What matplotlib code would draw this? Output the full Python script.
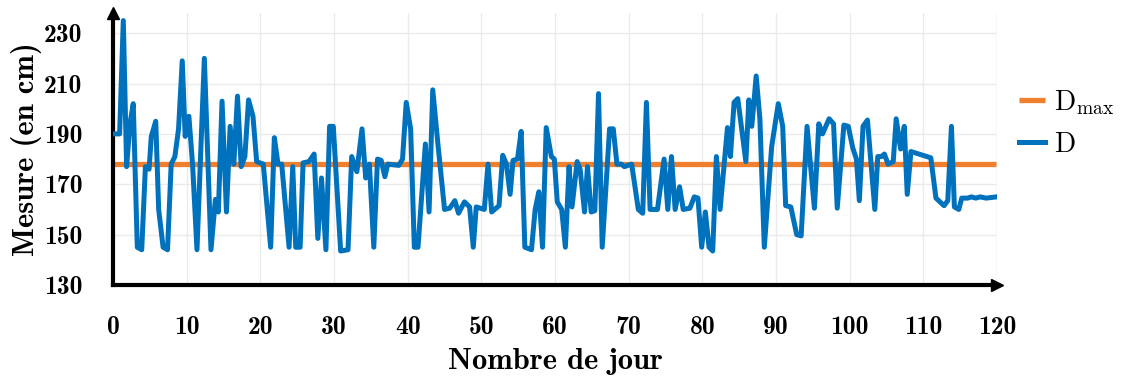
import matplotlib
matplotlib.use("Agg")
import matplotlib.pyplot as plt

# data
days = [0.0, 0.9, 1.4, 1.85, 2.3, 2.75, 3.3, 3.9, 4.4, 4.9, 5.2, 5.8, 6.2, 6.8, 7.4, 7.9,
        8.4, 8.9, 9.4, 9.8, 10.3, 10.8, 11.4, 12.4, 13.3, 13.9, 14.3, 14.8, 15.4, 15.9,
        16.4, 16.9, 17.4, 17.9, 18.4, 19.0, 19.5, 20.4, 21.4, 21.9, 22.4, 22.9, 23.9,
        24.4, 24.8, 25.4, 25.8, 26.6, 27.3, 27.8, 28.3, 28.9, 29.4, 29.9, 30.9, 31.9,
        32.4, 33.1, 33.8, 34.3, 34.8, 35.4, 35.9, 36.4, 36.9, 37.3, 38.8, 39.3, 39.8,
        40.4, 40.9, 41.4, 42.4, 42.9, 43.4, 44.1, 45.0, 45.7, 46.4, 46.9, 47.7, 48.4,
        48.9, 49.3, 50.4, 50.9, 51.4, 52.4, 52.9, 53.4, 53.9, 54.3, 54.9, 55.4, 55.9,
        56.8, 57.3, 57.8, 58.3, 58.8, 59.5, 59.9, 60.3, 60.9, 61.4, 61.9, 62.3, 63.0,
        63.4, 64.0, 64.4, 64.9, 65.4, 65.9, 66.4, 67.4, 67.9, 68.4, 69.0, 69.4, 70.4,
        71.3, 71.9, 72.4, 72.9, 73.9, 74.8, 75.3, 75.8, 76.3, 76.9, 77.4, 78.3, 78.9,
        79.4, 79.9, 80.4, 80.9, 81.4, 81.9, 82.4, 83.4, 83.8, 84.3, 84.8, 85.9, 86.3,
        86.7, 87.3, 87.8, 88.4, 89.4, 90.3, 90.9, 91.3, 92.0, 92.8, 93.4, 94.2, 95.2,
        95.8, 96.3, 97.2, 97.8, 98.3, 99.2, 99.8, 100.4, 100.9, 101.3, 101.8, 102.4,
        103.4, 103.8, 104.3, 104.7, 105.2, 105.9, 106.3, 106.9, 107.4, 107.8, 108.3,
        111.0, 111.7, 112.8, 113.3, 113.8, 114.2, 114.8, 115.2, 116.0, 116.5, 117.1,
        117.7, 118.5, 119.9]
mesure = [190, 190, 235, 177, 194, 202, 145, 144, 177, 176, 189, 195, 160, 145, 144, 178,
          181, 192, 219, 189, 197, 178, 144, 220, 144, 164, 159, 203, 159, 193,
          178, 205, 177, 181, 203.5, 197, 179, 178, 145, 188.5, 178, 178, 145,
          177, 145, 145, 178.5, 179, 182, 148.5, 172.5, 144, 193, 193, 143.5, 144,
          181, 175, 192, 172.5, 178, 145, 180, 179.5, 173, 178, 177.5, 180, 202.5,
          192, 145, 145, 186, 159, 207.5, 186, 160, 160.5, 163.5, 158.5, 163, 161,
          145, 161, 160, 178, 159, 161.5, 181.5, 178, 166, 179.5, 180, 191, 145,
          144, 160, 167, 145, 192.5, 181, 180, 163, 160, 145, 177, 161, 179,
          176, 159, 177, 159, 159.5, 206, 145, 192, 192, 178, 178, 177, 178,
          160, 158.5, 202.5, 160, 160, 180, 160, 181, 160, 169, 160, 160.5, 165,
          164.5, 145, 159, 145, 143.5, 181, 160, 192.5, 181, 202.5, 204, 179, 203.5,
          193, 213, 196, 145, 185, 202, 193, 161.5, 161, 150, 149.5, 193, 160.5,
          194, 190, 196, 194, 160.5, 193.5, 193, 184.5, 180, 163.5, 193, 195.5,
          160, 181, 181, 182, 178, 179, 196, 184, 193, 166, 183,
          180.5, 164.5, 161.5, 163.5, 193, 161, 160, 164.5, 164.5, 165, 164.5,
          165, 164.5, 165]
d_max = 178

x_ticks = [0, 10, 20, 30, 40, 50, 60, 70, 80, 90, 100, 110, 120]
y_ticks = [130, 150, 170, 190, 210, 230]

blue = "#0072BD"
orange = "#F07F2E"

plt.rcParams["font.family"] = "cmb10"
plt.rcParams["mathtext.fontset"] = "cm"
plt.rcParams["axes.unicode_minus"] = False

fig = plt.figure(figsize=(11.22, 3.78), dpi=100)
ax = fig.add_axes([0.1007, 0.246, 0.788, 0.7196])

ax.plot([days[0], days[-1]], [d_max, d_max], color=orange, linewidth=3.8,
        solid_capstyle="butt", label=r"$\mathrm{D}_{\mathrm{max}}$", zorder=2)
ax.plot(days, mesure, color=blue, linewidth=3.6, solid_joinstyle="round",
        label=r"$\mathrm{D}$", zorder=3)

ax.set_xlim(0, 120)
ax.set_ylim(130, 238)
ax.set_xticks(x_ticks)
ax.set_yticks(y_ticks)
ax.tick_params(axis="both", length=0, labelsize=18.5)
ax.tick_params(axis="x", pad=22)
ax.tick_params(axis="y", pad=22)

ax.grid(True, color="#EBEBEB", linewidth=1.0)
ax.axvline(120, color="#EBEBEB", linewidth=1.0, zorder=0)
ax.set_axisbelow(True)

for side in ["top", "right"]:
    ax.spines[side].set_visible(False)
for side in ["left", "bottom"]:
    ax.spines[side].set_linewidth(3)
    ax.spines[side].set_color("black")

# arrow heads at the end of both axes
ax.plot(1.0, 0, ">", color="black", markersize=9, transform=ax.transAxes, clip_on=False)
ax.plot(0, 1.0, "^", color="black", markersize=9, transform=ax.transAxes, clip_on=False)

ax.set_xlabel("Nombre de jour", fontsize=22, labelpad=7)
ax.set_ylabel("Mesure (en cm)", fontsize=22, labelpad=1)

fig.legend(loc="upper left", bbox_to_anchor=(1019 / 1122, 1 - 88 / 378), frameon=False,
           fontsize=20, handlelength=0.95, handletextpad=0.3, labelspacing=0.55,
           borderpad=0, borderaxespad=0)

fig.savefig("out.png", dpi=100)
